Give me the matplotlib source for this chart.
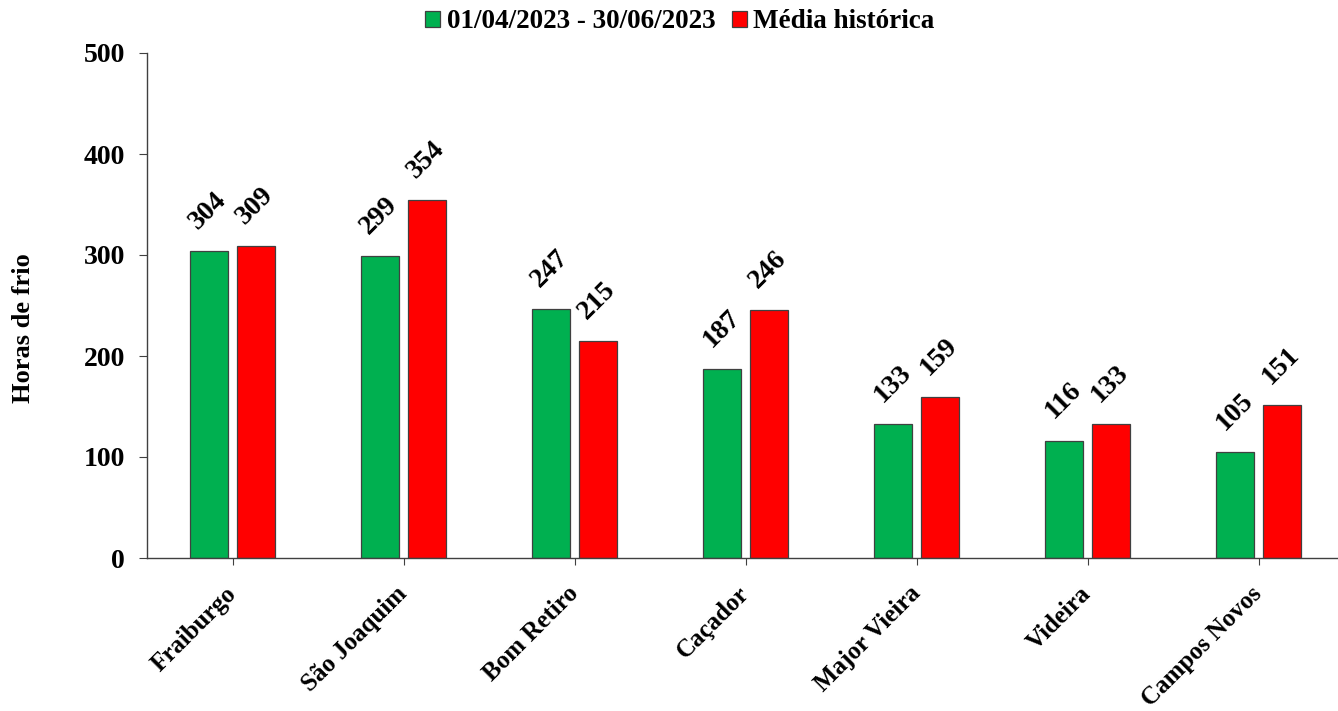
import matplotlib.pyplot as plt
import numpy as np

plt.rcParams['font.family'] = ['Liberation Serif', 'DejaVu Serif']
plt.rcParams['font.weight'] = 'bold'

cidades = ['Fraiburgo', 'São Joaquim', 'Bom Retiro', 'Caçador',
           'Major Vieira', 'Videira', 'Campos Novos']
periodo = [304, 299, 247, 187, 133, 116, 105]
media = [309, 354, 215, 246, 159, 133, 151]
serie_nomes = ['01/04/2023 - 30/06/2023', 'Média histórica']
y_ticks = [0, 100, 200, 300, 400, 500]

W, H = 1338, 711
fig = plt.figure(figsize=(W/100, H/100), dpi=100)
ax = fig.add_axes([147/W, (H-558)/H, (1344-147)/W, (558-53)/H])

x = np.arange(len(cidades))
w = 0.225
off = 0.137
b1 = ax.bar(x - off, periodo, w, color='#00B050', edgecolor='#404040', linewidth=0.9, label=serie_nomes[0])
b2 = ax.bar(x + off, media, w, color='#FF0000', edgecolor='#404040', linewidth=0.9, label=serie_nomes[1])

for bars in (b1, b2):
    for r in bars:
        h = r.get_height()
        ax.annotate(str(int(h)), (r.get_x() + r.get_width()/2, h),
                    xytext=(-0.5, 29), textcoords='offset points',
                    ha='center', va='center', rotation=45,
                    fontsize=20, fontweight='bold')

ax.set_xlim(-0.5, len(cidades) - 0.5)
ax.set_ylim(0, 500)
ax.set_yticks(y_ticks)
ax.set_yticklabels([str(v) for v in y_ticks], fontsize=20, fontweight='bold')
ax.set_xticks(x)
ax.set_xticklabels(cidades, rotation=45, ha='right', va='center',
                   rotation_mode='anchor', fontsize=18, fontweight='bold')
ax.tick_params(axis='x', length=5, pad=18, color='#404040')
ax.tick_params(axis='y', length=6, pad=10, color='#404040')

for s in ('top', 'right'):
    ax.spines[s].set_visible(False)
for s in ('left', 'bottom'):
    ax.spines[s].set_color('#404040')
    ax.spines[s].set_linewidth(1.0)

fig.text(24/W, 1 - 328/H, 'Horas de frio', rotation=90, ha='center', va='center',
         fontsize=19, fontweight='bold')

fig.legend(handles=[b1, b2], labels=serie_nomes, loc='center', ncol=2,
           bbox_to_anchor=(680/W, 1 - 22/H), frameon=False,
           handlelength=0.55, handleheight=0.55, handletextpad=0.25,
           columnspacing=0.6, prop={'size': 19.5, 'weight': 'bold'})

fig.savefig('out.png', dpi=100)
